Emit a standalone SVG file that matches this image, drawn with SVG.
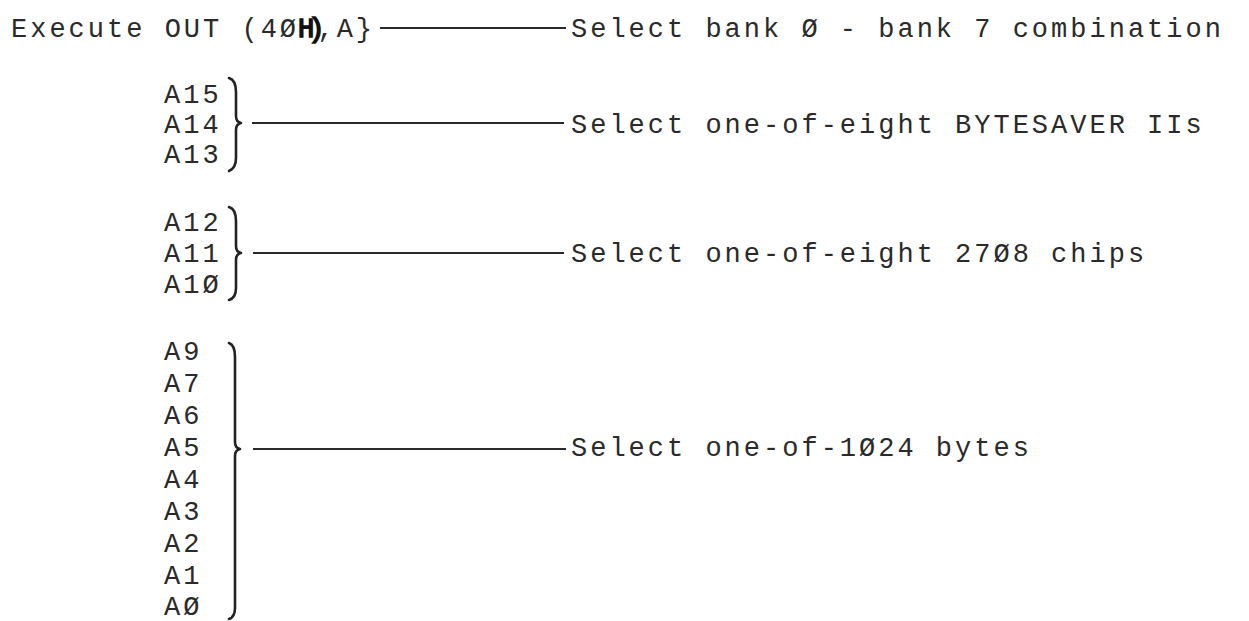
<svg xmlns="http://www.w3.org/2000/svg" width="1249" height="621" viewBox="0 0 1249 621">
<style>
text{font-family:"Liberation Mono","Courier New",monospace;font-size:27px;letter-spacing:3px;fill:#2a2a2a}
.b{stroke:#111;stroke-width:1.6;fill:#111}
.br{fill:none;stroke:#222;stroke-width:2.6;stroke-linecap:round;stroke-linejoin:round}
.c{stroke:#2a2a2a;stroke-width:1.8;fill:none}
</style>
<rect width="1249" height="621" fill="#fff"/>
<g id="cmd">
<text x="11" y="37" dx="0 0 0 0 0 0 0 0 0 0 0 0 0 0 0 -1 -9 -10 0 0">Execute OUT (4Ø<tspan class="b">H)</tspan>,A}</text>
</g>
<g id="bank">
<text x="571" y="37">Select bank Ø - bank 7 combination</text>
</g>
<g id="grp1">
<text x="164" y="103">A15</text>
<text x="164" y="133">A14</text>
<text x="164" y="163">A13</text>
<path class="br" d="M229 78 Q236 80 236 92 L236 116 Q236 122 241 123 Q236 124 236 130 L236 158 Q236 168 229 171"/>
</g>
<g id="sel1">
<text x="571" y="133">Select one-of-eight BYTESAVER IIs</text>
</g>
<g id="grp2">
<text x="164" y="231">A12</text>
<text x="164" y="262">A11</text>
<text x="164" y="293">A1Ø</text>
<path class="br" d="M229 207 Q236 209 236 221 L236 246 Q236 252 241 253 Q236 254 236 260 L236 288 Q236 298 229 300"/>
</g>
<g id="sel2">
<text x="571" y="262">Select one-of-eight 27Ø8 chips</text>
</g>
<g id="grp3">
<text x="164" y="360">A9</text>
<text x="164" y="392">A7</text>
<text x="164" y="424">A6</text>
<text x="164" y="456">A5</text>
<text x="164" y="488">A4</text>
<text x="164" y="520">A3</text>
<text x="164" y="552">A2</text>
<text x="164" y="584">A1</text>
<text x="164" y="615">AØ</text>
<path class="br" d="M229 343 Q235 345 235 357 L235 442 Q235 448 240 449 Q235 450 235 456 L235 608 Q235 617 229 619"/>
</g>
<g id="sel3">
<text x="571" y="456">Select one-of-1Ø24 bytes</text>
</g>
<g id="connectors">
<line class="c" x1="380" y1="28" x2="566" y2="28"/>
<line class="c" x1="252" y1="123" x2="564" y2="123"/>
<line class="c" x1="253" y1="253" x2="564" y2="253"/>
<line class="c" x1="253" y1="449" x2="566" y2="449"/>
</g>
</svg>
